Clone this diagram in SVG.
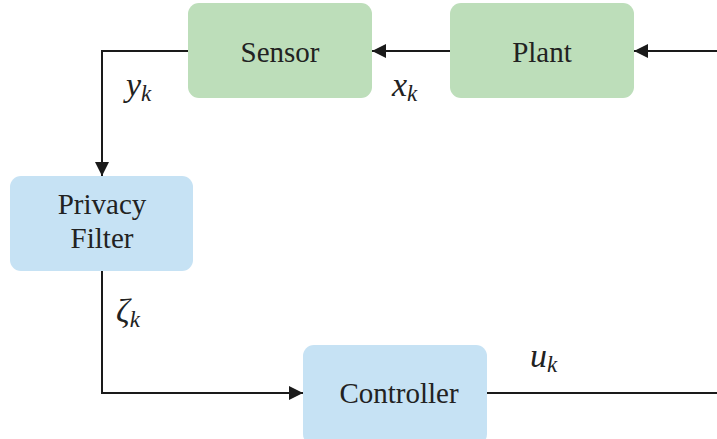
<svg xmlns="http://www.w3.org/2000/svg" width="717" height="439" viewBox="0 0 717 439">
<style>
.green{fill:#bddeba;}
.blue{fill:#c6e2f4;}
.wire{fill:none;stroke:#1a1a1a;stroke-width:2;}
</style>
<defs>
<marker id="arr" viewBox="0 0 10 10" refX="10" refY="5" markerWidth="14" markerHeight="14" markerUnits="userSpaceOnUse" orient="auto">
<path d="M0,0 L10,5 L0,10 z" fill="#1a1a1a"/>
</marker>
</defs>
<rect width="717" height="439" fill="#fff"/>
<g id="connectors">
<path class="wire" d="M717,51 L634,51" marker-end="url(#arr)"/>
<path class="wire" d="M450,51 L372,51" marker-end="url(#arr)"/>
<path class="wire" d="M188,51 L102,51 L102,176" marker-end="url(#arr)"/>
<path class="wire" d="M102,271 L102,393 L303,393" marker-end="url(#arr)"/>
<path class="wire" d="M487,393 L717,393"/>
</g>
<g font-family="Liberation Serif, DejaVu Serif, serif" font-size="29" fill="#222" text-anchor="middle">
<g id="sensor">
<rect class="green" x="188" y="3" width="184" height="95" rx="11"/>
<text x="280" y="62">Sensor</text>
</g>
<g id="plant">
<rect class="green" x="450" y="3" width="184" height="95" rx="11"/>
<text x="542" y="62">Plant</text>
</g>
<g id="privacy-filter">
<rect class="blue" x="10" y="176" width="183" height="95" rx="11"/>
<text x="102" y="214">Privacy</text>
<text x="102" y="248">Filter</text>
</g>
<g id="controller">
<rect class="blue" x="303" y="345" width="184" height="100" rx="11"/>
<text x="399" y="403">Controller</text>
</g>
</g>
<g id="labels" font-family="Liberation Serif, DejaVu Serif, serif" font-style="italic" font-size="34" fill="#222">
<text x="126" y="96">y<tspan font-size="23" dy="5">k</tspan></text>
<text x="392" y="96">x<tspan font-size="23" dy="5">k</tspan></text>
<text x="116" y="322">ζ<tspan font-size="23" dy="5">k</tspan></text>
<text x="530" y="367">u<tspan font-size="23" dy="5">k</tspan></text>
</g>
</svg>
